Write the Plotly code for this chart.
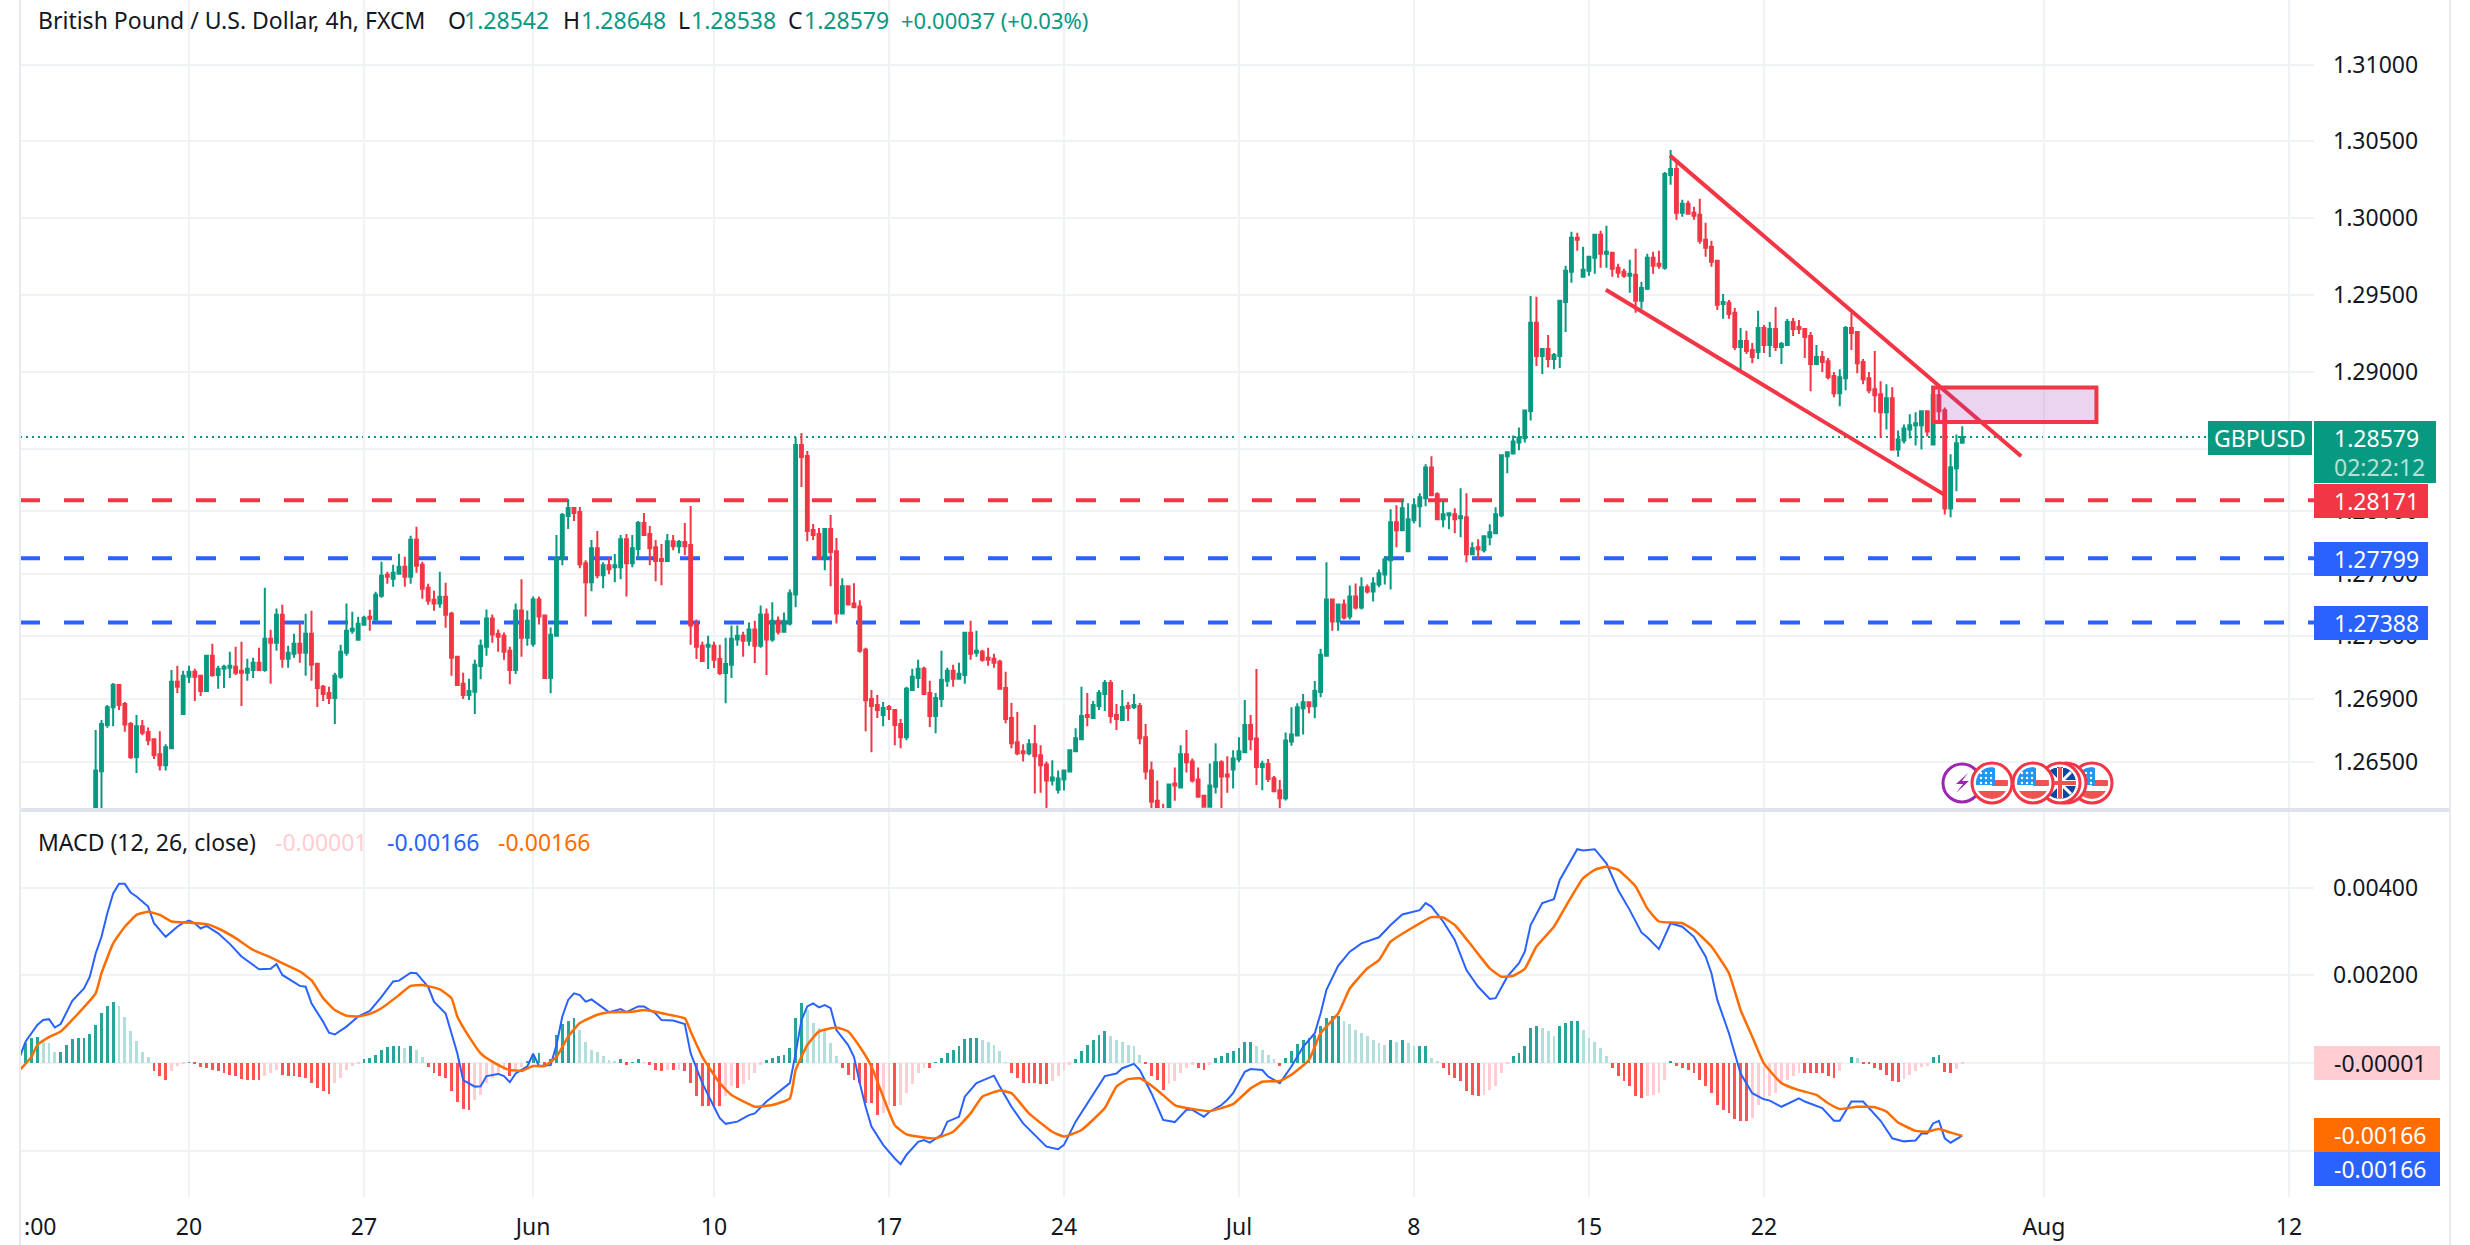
import math
import plotly.graph_objects as go

W, H = 2470, 1245
FONT = "Noto Sans"
GREEN, RED, BLUE, ORANGE = "#089981", "#f23645", "#2962ff", "#ff6d00"
GRID = "#f0f3f5"

# candles in pips above 1.26000 (one list per field, bar 0 first)
opens_pips = [
    5, 44.2, 73.5, 84.8, 99, 86.9, 74.1, 53.2, 72.8, 69,
    64.5, 54.9, 47.9, 58.7, 101, 80.5, 104.2, 107.4, 104.8, 95.2,
    117.6, 105.4, 109.3, 109.9, 110.6, 108, 106.7, 108.6, 113.1, 108.6,
    128.5, 125.9, 143.8, 115.7, 118.9, 125.3, 119.5, 131.7, 112.5, 97.8,
    93.9, 90.7, 104.2, 119.5, 133.6, 127.8, 137.4, 142.5, 140.6, 156,
    169.4, 166.8, 170, 174.5, 168.1, 191.8, 175.8, 161.1, 153.4, 150.9,
    155.3, 144.5, 117, 99.7, 92.6, 94.6, 111.1, 123.3, 141.4, 131.7,
    130.4, 120.8, 108.5, 146.5, 129.1, 125.3, 153.6, 143.3, 103.4, 130.4,
    179.4, 207, 212.2, 209.6, 176.8, 164.5, 186.4, 169.1, 175.5, 174.2,
    174.2, 192.2, 176.8, 185.8, 202.5, 195.5, 187, 179.4, 178.1, 190.9,
    187.7, 190.3, 188.4, 137.5, 124, 123.3, 124, 115.6, 106.6, 111.8,
    127.9, 130.4, 127.2, 134.3, 124, 143.9, 127.9, 140, 133, 138.2,
    156.8, 252.7, 245.7, 198, 195.5, 179.4, 198.7, 184.5, 144.6, 162,
    151, 149.1, 121.4, 90.1, 86.2, 79.9, 85, 83, 74.1, 65.8,
    95.8, 103.5, 109.3, 93.9, 79.2, 90.1, 101.6, 108, 102.9, 105.4,
    132.3, 119.5, 120.1, 116.3, 115.7, 113.8, 97.1, 77.9, 62.6, 56.8,
    55.5, 61.3, 54.3, 48.5, 38.3, 32.5, 38.9, 44, 56.8, 64.5,
    79.9, 77.9, 85.6, 93.3, 100.3, 79.9, 76.7, 85.6, 85, 85.6,
    65.8, 44.7, 25.5, 20, 17, 36.4, 33.8, 54.9, 50.4, 38.9,
    28.7, 21.6, 34.4, 49.8, 42.1, 45.3, 51.7, 56.2, 73.5, 64.9,
    46.9, 48.8, 39.8, 32.1, 27, 63, 66.8, 84.2, 88, 85.5,
    94.5, 117.6, 153.6, 139.4, 150.3, 142.6, 155.5, 148.4, 161.3, 158.7,
    163.2, 169.6, 178.6, 203, 197.9, 184.4, 204.3, 213.3, 218.4, 238.3,
    221, 204.9, 207.5, 208.2, 205.6, 206.2, 182.5, 187, 185, 193.4,
    196, 207.5, 245.4, 247.3, 254.4, 257, 274.6, 331.7, 310.2, 314.8,
    308.2, 310.2, 345.3, 364.9, 387, 361.6, 365.5, 374, 388.9, 376.6,
    377.2, 367.5, 364.9, 362.3, 362.9, 346, 353.8, 374, 370.1, 367.5,
    428, 431.9, 403.3, 409.1, 403.3, 402, 385.7, 381.1, 372, 344,
    344.7, 338.2, 316, 320, 314.1, 312.8, 328.4, 317.3, 327.7, 316,
    317.3, 332.3, 329, 327.7, 323.2, 305, 309.5, 306.9, 297.2, 286.1,
    295.9, 328.4, 325.8, 306.3, 295.9, 288.7, 285.5, 273.8, 282.9, 249.8,
    255.6, 262.8, 265.4, 265.4, 274.5, 253, 284.8, 275.1, 211.9, 237.8,
    254.2,
]
highs_pips = [
    70.3, 76.7, 86.2, 100.3, 99, 88.2, 75.4, 79.9, 76.7, 72,
    64.5, 69.6, 61.3, 108.6, 111.2, 108, 111.2, 109.3, 105.4, 118.2,
    125.3, 111.2, 111.8, 120.1, 123.3, 126.5, 115.7, 116.3, 122.7, 161,
    134.2, 147.7, 150.2, 124, 131.7, 138.7, 144.5, 146.4, 112.5, 99,
    97.8, 106.7, 124.6, 150.9, 145.7, 142.5, 143.2, 147, 158.5, 177.7,
    171.3, 175.8, 182.8, 180.9, 194.3, 200.1, 177.7, 163.6, 159.2, 171.3,
    164.3, 145.7, 117, 106.7, 102.9, 115, 127.9, 147.2, 143.9, 134.3,
    132.4, 123.3, 151, 166.5, 146.5, 155.5, 155.5, 143.3, 135.6, 194.8,
    209, 218, 212.8, 212.8, 178.7, 191.6, 197.4, 177.4, 180.6, 182.6,
    194.8, 195.5, 194.8, 203.8, 209, 200.6, 191.6, 189, 195.5, 194.8,
    191.6, 202.5, 213.5, 140.7, 126.6, 130.4, 126.6, 124.6, 129.1, 136.9,
    136.9, 133, 138.8, 140, 149.7, 147.8, 151.7, 142.7, 145.2, 160,
    257.9, 260.5, 248.9, 201.9, 199.3, 199.3, 207.7, 192.9, 167.1, 162,
    163.9, 153, 122.7, 95.8, 92.6, 88.2, 86.2, 83.7, 77.3, 97.8,
    109.3, 115, 110.6, 101.6, 93.9, 120.8, 109.9, 111.8, 113.1, 132.9,
    140, 133.6, 121.4, 122.7, 118.9, 115, 107.4, 87.5, 81.8, 61.3,
    64.5, 73.5, 60.7, 50.4, 51.1, 44.7, 44.7, 57.5, 71.5, 97.8,
    93.9, 88.8, 95.8, 102.2, 102.2, 86.9, 95.8, 88.2, 93.3, 87.5,
    74.1, 50.4, 38.3, 23.6, 35.7, 46.6, 60.7, 70.3, 52.3, 46.6,
    28.7, 49.1, 61.9, 51.1, 53.6, 57.5, 65.8, 89.4, 79.9, 109.2,
    50.8, 52, 41.1, 38.6, 68.8, 84.8, 87.4, 93.2, 88, 101.5,
    122.1, 177.3, 154.2, 151, 153.6, 162.5, 163.8, 167.7, 163.2, 167.7,
    172.8, 181.2, 211.4, 213.9, 217.2, 215.2, 218.4, 221.6, 240.3, 245.4,
    222.3, 216.5, 208.8, 212, 224.9, 221.6, 190.2, 192.1, 194.7, 201.7,
    212.7, 246.7, 248.6, 258.9, 264, 275, 349.2, 348.6, 314.8, 323.9,
    312.1, 346, 368.8, 390.9, 390.2, 381.1, 375.3, 389.6, 391.5, 394.8,
    377.2, 370.1, 366.8, 372.7, 379.8, 358.4, 376.6, 377.9, 378.5, 429.9,
    444.2, 435.8, 411.7, 411.1, 407.2, 412.4, 396.7, 385, 372, 350.5,
    346.6, 341.4, 328.4, 326.5, 318.7, 339.5, 330.3, 332.3, 342, 319.3,
    334.2, 334.8, 333.5, 328.4, 325.8, 317.3, 313.4, 308.9, 299.8, 301.7,
    329.7, 338.1, 325.8, 308.2, 299.8, 313.4, 293.9, 292, 290, 262.1,
    266, 272.5, 273.8, 275.1, 275.1, 288.1, 288.7, 277, 246.8, 259.5,
    264.8,
]
lows_pips = [
    0, 10, 71.7, 72.8, 83, 69.2, 51.9, 43, 67, 60.7,
    51.9, 44.7, 44.7, 58.7, 93.9, 80.5, 100.3, 88.8, 92, 95.2,
    104.2, 96.5, 97.1, 103.5, 105.4, 85.6, 101.6, 103.5, 108.6, 107.4,
    99.7, 120.8, 109.9, 109.9, 116.3, 113.1, 104.8, 101.6, 85, 88.8,
    86.9, 74.1, 102.9, 117.6, 131.7, 127.8, 137.4, 133.6, 140.6, 154.7,
    163.6, 161.7, 170, 161.7, 163.6, 170.7, 154, 150.2, 146.4, 148.3,
    135.5, 104.8, 99, 90.1, 89.4, 80.5, 102.7, 117.6, 125.9, 120.1,
    115, 99.5, 106, 116.9, 124, 123.3, 137.5, 103.4, 93.7, 129.8,
    175.5, 198.7, 203.8, 173.6, 142.7, 158.8, 167.1, 160.7, 169.7, 164.5,
    166.5, 155.5, 174.2, 179.4, 194.2, 175.5, 165.2, 162.6, 178.1, 185.1,
    183.2, 181.9, 124.6, 115.6, 114.3, 109.2, 109.8, 105.3, 87.3, 103.4,
    124, 116.9, 124, 113, 122.7, 105.3, 126.6, 131.1, 133, 136.9,
    148.5, 225.7, 190.9, 191.6, 179.4, 172.3, 162, 138.2, 144.6, 150.4,
    148.5, 119.5, 69.6, 56.2, 77.9, 72.8, 76.7, 60.7, 58.7, 63.9,
    95.2, 97.1, 92.6, 72.2, 68.3, 85, 97.8, 97.8, 102.9, 99.7,
    115, 117, 113.8, 111.2, 109.9, 96.5, 74.7, 58.7, 54.3, 50.4,
    54.3, 30, 30.6, 20.4, 35.1, 30, 31.9, 44, 56.2, 64.5,
    72.8, 77.3, 83, 82.4, 74.7, 70.3, 76.7, 76, 83.7, 61.3,
    38.9, 20, 14, 14, 15, 25.5, 33.8, 43.4, 37, 28,
    21, 21.6, 30, 17, 30.6, 33.2, 49.8, 56.2, 57.5, 35.4,
    32.1, 37.3, 30.9, 19.3, 25.7, 60.4, 66.2, 67.5, 81, 77.8,
    91.2, 117.6, 133.6, 133.6, 140.7, 140.7, 147.1, 147.1, 157.4, 152.3,
    161.3, 163.2, 160, 187, 197.9, 184.4, 202.4, 199.8, 213.3, 219.7,
    204.9, 199.8, 198.5, 196, 193.4, 177.3, 181.8, 179.2, 183.7, 188.2,
    196, 206.2, 234.5, 246.7, 249.3, 254.4, 268.5, 303.7, 298.5, 303,
    301.7, 302.4, 325.8, 357.7, 378.5, 361.6, 362.3, 363.6, 367.5, 367.5,
    361.6, 361, 361, 351.2, 338.2, 340.8, 353.1, 363.6, 366.8, 366.2,
    421.5, 398.7, 400.7, 402, 398.7, 383.1, 374.6, 368.1, 340.1, 334.3,
    334.3, 314.1, 301.1, 311.5, 305.6, 308.2, 312.1, 309.5, 313.4, 305,
    317.3, 323.2, 324.5, 308.9, 287.4, 304.3, 299.8, 295.2, 283.5, 277.7,
    288.1, 314.1, 299.1, 292, 286.1, 273.8, 257.6, 262.8, 249, 245.2,
    253.7, 256.9, 252.4, 249.8, 258.2, 253, 268, 208, 206.2, 223,
    253.8,
]
closes_pips = [
    44.7, 74.1, 84.8, 99, 86.2, 73.9, 53.2, 72.8, 68.6, 63.9,
    54.3, 47.9, 59.4, 101, 97.8, 104.8, 107.4, 104.2, 95.2, 117.6,
    105.4, 109.3, 110.6, 111.2, 106.7, 106.7, 109.3, 113.1, 108.6, 128.5,
    125.9, 143.8, 115.7, 119.5, 125.3, 119.5, 131.7, 111.8, 97.1, 93.3,
    90.7, 104.8, 120.1, 133.6, 134.9, 138, 141.9, 141.3, 156.6, 168.8,
    168.1, 170.7, 174.5, 168.1, 191.8, 175.2, 160.4, 152.8, 150.9, 155.3,
    143.8, 116.3, 99, 92.6, 95.2, 111.8, 124, 141.4, 131.1, 129.8,
    120.1, 108.5, 146.5, 129.1, 140, 153.6, 142.7, 103.4, 131, 179.4,
    207.7, 212.2, 209, 176.1, 164.5, 186.4, 169.1, 175.5, 172.9, 175.5,
    192.2, 176.8, 186.4, 202.5, 194.8, 186.4, 178.1, 178.1, 190.9, 187.7,
    190.3, 187.7, 136.9, 123.3, 114.3, 124.6, 115, 106.6, 112.4, 128.5,
    130.4, 127.2, 134.3, 124, 143.9, 127.9, 140, 133, 140, 157.5,
    252.7, 245, 197.4, 194.8, 179.4, 198.7, 183.9, 144.6, 162, 150.4,
    148.5, 120.8, 89.2, 85.6, 83, 84.3, 83.7, 73.5, 65.8, 96.5,
    104.2, 109.3, 93.3, 79.2, 90.7, 102.2, 108, 102.9, 106.1, 132.3,
    118.9, 120.8, 115, 115, 113.1, 96.5, 77.3, 61.9, 55.5, 55.5,
    61.3, 53.6, 47.9, 38.3, 40.2, 39.6, 44.7, 57.5, 65.1, 79.2,
    78.6, 86.2, 93.9, 100.3, 79.2, 77.3, 85, 84.3, 86.2, 65.1,
    44, 24.8, 18, 18.5, 35.7, 35.1, 54.9, 49.8, 38.3, 28,
    21.6, 35.1, 49.8, 40.8, 40.8, 52.3, 56.8, 73.5, 64.5, 46.9,
    48.8, 39.2, 31.5, 27, 63.6, 67.5, 84.8, 88, 85.5, 95.1,
    118.2, 153.6, 139.4, 150.3, 142, 155.5, 148.4, 161.3, 158.7, 163.8,
    170.3, 179.2, 203, 197.9, 212, 205, 213.9, 219.1, 238.3, 220.4,
    204.9, 208.2, 208.8, 204.9, 206.9, 182.5, 186.3, 185.7, 194, 196.6,
    208.2, 246.1, 248, 255, 257.6, 275, 331.7, 310.2, 314.8, 308.2,
    310.8, 346, 365.5, 387, 385.7, 366.2, 374.6, 388.9, 376.6, 377.9,
    366.8, 364.2, 362.3, 363.6, 346, 354.4, 374, 368.8, 368.8, 428.6,
    431.9, 403.3, 409.1, 402.6, 401.3, 385, 380.5, 371.4, 343.4, 345.3,
    337.5, 316, 320, 313.4, 309.5, 328.4, 317.3, 327.7, 316, 318,
    332.3, 327.7, 327.7, 322.5, 305, 309.5, 306.3, 296.5, 286.1, 296.5,
    328.4, 325.1, 305.6, 295.2, 288.1, 284.8, 273.8, 282.9, 249.8, 256.3,
    263.4, 265.4, 266.7, 274.5, 261.5, 284.8, 274.5, 211.9, 238.4, 253.9,
    257.9,
]

# macd histogram, 1e-5 units, first bar is -12
hist_units = [
    46, 57, 59, 49, 45, 26, 26, 41, 55, 57, 57, 66,
    87, 113, 130, 139, 129, 104, 72, 50, 26, 14,
    -19, -30, -38, -19, -6, -2, 2, -2, -9, -11,
    -15, -19, -23, -27, -30, -37, -40, -40, -40, -30,
    -23, -15, -27, -30, -30, -32, -34, -46, -57, -65,
    -70, -46, -34, -17, -8, -2, 8, 11, 19, 29,
    37, 38, 38, 35, 38, 30, 14, -9, -23, -30,
    -34, -65, -88, -105, -107, -84, -72, -46, -34, -27,
    -15, -30, -19, -9, 4, 15, 23, -4, 8, 65,
    88, 95, 103, 76, 47, 30, 25, 15, 6, 4,
    8, -4, 2, 8, 2, -4, -15, -19, -17, -17,
    -15, -19, -46, -76, -99, -99, -99, -99, -76, -53,
    -57, -49, -38, -23, -4, 6, 11, 15, 19, 34,
    103, 137, 122, 91, 80, 76, 46, 15, -11, -27,
    -38, -46, -91, -91, -118, -114, -95, -99, -95, -68,
    -49, -23, -11, -11, 2, 11, 23, 30, 38, 55,
    57, 57, 52, 47, 40, 27, 2, -23, -34, -46,
    -46, -46, -49, -49, -42, -30, -15, -4, 8, 27,
    42, 53, 65, 72, 61, 53, 49, 42, 38, 19,
    -2, -30, -38, -61, -49, -42, -23, -11, -4, -11,
    -15, -4, 11, 15, 23, 27,
    34, 49, 49, 38, 30, 19, 8, -6, 11, 27,
    44, 53, 57, 65, 84, 103, 107, 107, 95, 88,
    76, 68, 61, 52, 46, 42, 53, 49, 53, 46,
    38, 38, 38, 11, 4, -11, -27, -34, -42, -65,
    -72, -76, -72, -61, -53, -23, -2, 15, 23, 38,
    80, 84, 80, 72, 61, 84, 91, 95, 95, 76,
    57, 49, 34, 15, -11, -30, -42, -53, -76, -80,
    -76, -72, -68, -38, 3, -8, -11, -15, -23, -38,
    -53, -68, -95, -107, -114, -129, -133, -133, -126, -95,
    -84, -76, -68, -46, -38, -30, -23, -23, -23, -23,
    -23, -30, -34, -19, 0, 14, 11, -2, -2, -11,
    -15, -27, -42, -44, -37, -27, -19, -9, -6, 14,
    19, -21, -23, -14, -1,
]

macd_bars = [
    -13, -12, -10, -9, -8, -7, -6, -4, -2, -1, 0, 1, 2, 3, 4, 5, 6, 7, 9, 10,
    12, 14, 15, 16, 17, 18, 19, 21, 23, 25, 28, 30, 31, 32, 35, 36, 37, 39, 40, 41,
    43, 45, 47, 49, 51, 52, 54, 55, 57, 58, 60, 61, 62, 63, 65, 66, 67, 69, 70, 71,
    72, 74, 75, 76, 78, 79, 80, 81, 82, 83, 84, 85, 87, 88, 90, 91, 93, 94, 96, 97,
    99, 101, 102, 104, 106, 107, 108, 110, 112, 113, 115, 116, 117, 119, 120, 121, 122, 123, 124, 125,
    126, 127, 129, 130, 131, 132, 133, 135, 137, 138, 139, 141, 142, 143, 145, 146, 148, 149, 151, 153,
    154, 155, 157, 159, 161, 163, 165, 166, 168, 171, 173, 175, 176, 178, 179, 181, 183, 185, 187, 188,
    190, 191, 193, 194, 195, 197, 198, 200, 201, 203, 205, 207, 209, 210, 211, 213, 215, 217, 220, 222,
    224, 227, 228, 229, 231, 233, 235, 237, 239, 240, 242, 244, 245, 246, 248, 250, 251, 254, 255, 257,
    259, 261, 263, 265, 266, 268, 270, 272, 274, 276, 277, 278, 280, 282, 284, 286, 287, 289, 292, 293,
    296, 298, 299, 301, 303, 306, 308, 310, 312, 313, 314, 315, 316, 317, 318, 320,
]
macd_units = [
    14, 49, 87, 98, 100, 81, 89, 142, 170, 197, 250, 288, 342, 387, 409, 409, 389, 380, 357, 319,
    288, 311, 320, 325, 319, 307, 313, 296, 272, 243, 214, 215, 226, 201, 176, 174, 136, 94, 69, 65,
    83, 106, 119, 151, 186, 188, 206, 205, 174, 140, 113, 68, 22, -39, -54, -53, -30, -25, -30, -44,
    -24, -8, 21, -7, -5, 41, 106, 144, 159, 155, 140, 145, 127, 116, 123, 116, 129, 129, 113, 98,
    97, 89, 22, -46, -100, -126, -139, -134, -119, -115, -88, -77, -68, -46, 22, 98, 129, 136, 127, 132,
    125, 75, 41, 14, -46, -100, -145, -187, -218, -231, -210, -180, -176, -182, -164, -134, -123, -77, -46, -35,
    -29, -54, -100, -138, -164, -191, -197, -187, -134, -73, -30, -24, -12, -2, -16, -69, -130, -135, -107, -107,
    -123, -111, -96, -84, -69, -20, -14, -16, -31, -46, -8, 37, 68, 113, 167, 222, 254, 273, 287, 315,
    339, 349, 365, 357, 323, 281, 212, 174, 146, 148, 197, 228, 254, 315, 365, 374, 418, 488, 485, 488,
    456, 395, 349, 298, 287, 260, 319, 311, 288, 243, 205, 144, 68, -24, -69, -83, -86, -100, -81, -88,
    -103, -132, -132, -88, -88, -132, -172, -179, -177, -161, -161, -138, -132, -172, -182, -166,
]
signal_bars = [
    -13, -11, -10, -8, -6, -3, 0, 1, 3, 5, 7, 9, 11, 13, 16, 19, 21, 24, 27, 30,
    32, 35, 37, 39, 41, 43, 45, 47, 49, 52, 54, 56, 59, 61, 62, 64, 66, 68, 70, 71,
    73, 75, 77, 79, 81, 83, 86, 88, 92, 94, 96, 98, 101, 102, 104, 107, 109, 112, 113, 116,
    119, 120, 122, 124, 127, 129, 131, 133, 135, 137, 139, 142, 144, 147, 150, 152, 155, 157, 160, 164,
    166, 169, 173, 175, 177, 179, 182, 185, 187, 191, 193, 195, 198, 200, 203, 205, 208, 210, 213, 215,
    218, 220, 222, 226, 229, 231, 233, 236, 239, 241, 243, 245, 247, 250, 252, 255, 257, 259, 261, 264,
    266, 268, 272, 274, 277, 280, 282, 284, 286, 289, 292, 295, 297, 299, 302, 305, 307, 309, 312, 314,
    316, 318, 320,
]
signal_units = [
    -16, 14, 41, 59, 72, 113, 159, 205, 273, 311, 338, 345, 338, 323, 320, 317, 307, 285, 258, 241,
    228, 209, 189, 148, 121, 108, 106, 112, 125, 155, 176, 178, 168, 148, 106, 60, 22, 3, -11, -16,
    -18, -7, -7, 14, 60, 91, 110, 116, 117, 121, 117, 111, 102, 72, 14, -46, -73, -94, -100, -96,
    -81, -16, 41, 72, 81, 72, 37, -8, -77, -142, -163, -170, -172, -157, -115, -77, -63, -69, -115, -157,
    -168, -153, -103, -54, -37, -35, -62, -96, -103, -110, -103, -94, -58, -43, -41, -27, 7, 68, 113, 170,
    216, 235, 277, 311, 333, 332, 315, 266, 216, 197, 199, 215, 266, 311, 357, 422, 441, 448, 441, 403,
    353, 323, 319, 304, 266, 205, 121, 60, -1, -46, -62, -73, -92, -105, -100, -101, -111, -136, -155, -157,
    -151, -159, -166,
]

# tick positions on the bar axis
date_bars = [16, 46, 75, 106, 136, 166, 196, 226, 256, 286, 334, 376]
date_labels = ["20", "27", "Jun", "10", "17", "24", "Jul", "8", "15", "22", "Aug", "12"]
price_ticks = [1.31, 1.305, 1.30, 1.295, 1.29, 1.285, 1.281, 1.277, 1.273, 1.269, 1.265]
macd_ticks = [0.004, 0.002, 0, -0.002]

last_price = 1.28579
res_level = 1.28171
sup_levels = [1.27799, 1.27388]
# drawn channel and supply box
upper_bars, upper_prices = [269.9, 330.1], [1.30406, 1.28455]
lower_bars, lower_prices = [258.9, 316.9], [1.29532, 1.28208]
box_bars, box_prices = [315, 343], [1.28898, 1.28675]


def to_price(pips):
    return [1.26 + p / 10000 for p in pips]


def to_macd(units):
    return [u / 100000 for u in units]


def px(x):
    return x / W


def py(y):
    return 1 - y / H


opens, highs, lows, closes = map(to_price, (opens_pips, highs_pips, lows_pips, closes_pips))
bars = list(range(len(closes)))
hist = to_macd(hist_units)
hist_bars = list(range(-12, -12 + len(hist)))

# same four colour rule as the indicator
hist_colors = []
prev = hist[0]
for v in hist:
    if v >= 0:
        hist_colors.append("#26a69a" if v >= prev else "#b2dfdb")
    else:
        hist_colors.append("#ff5252" if v <= prev else "#ffcdd2")
    prev = v

fig = go.Figure()

fig.add_trace(go.Candlestick(
    x=bars, open=opens, high=highs, low=lows, close=closes,
    increasing=dict(line=dict(color=GREEN, width=2), fillcolor=GREEN),
    decreasing=dict(line=dict(color=RED, width=2), fillcolor=RED),
    whiskerwidth=0, hoverinfo="skip", showlegend=False, xaxis="x", yaxis="y",
))
for xs, ys in [(upper_bars, upper_prices), (lower_bars, lower_prices)]:
    fig.add_trace(go.Scatter(x=xs, y=ys, mode="lines", line=dict(color=RED, width=4),
                             hoverinfo="skip", showlegend=False, xaxis="x", yaxis="y"))

fig.add_trace(go.Bar(x=hist_bars, y=hist, marker=dict(color=hist_colors, line=dict(width=0)),
                     width=0.48, hoverinfo="skip", showlegend=False, xaxis="x2", yaxis="y2"))
fig.add_trace(go.Scatter(x=macd_bars, y=to_macd(macd_units), mode="lines",
                         line=dict(color=BLUE, width=2), hoverinfo="skip", showlegend=False,
                         xaxis="x2", yaxis="y2"))
fig.add_trace(go.Scatter(x=signal_bars, y=to_macd(signal_units), mode="lines",
                         line=dict(color=ORANGE, width=2.5, shape="spline", smoothing=0.4),
                         hoverinfo="skip", showlegend=False, xaxis="x2", yaxis="y2"))

shapes = []
annots = []


def hline(y, color, dash, width, yref="y", x1=2314, layer="below"):
    shapes.append(dict(type="line", xref="paper", yref=yref, x0=px(20), x1=px(x1), y0=y, y1=y,
                       line=dict(color=color, width=width, dash=dash), layer=layer))


def rect(x0, y0, x1, y1, fill):
    shapes.append(dict(type="rect", xref="paper", yref="paper", x0=px(x0), x1=px(x1), y0=py(y0), y1=py(y1),
                       fillcolor=fill, line=dict(width=0), layer="above"))


def text(x, y, s, color, size=23, anchor="left"):
    annots.append(dict(xref="paper", yref="paper", x=px(x), y=py(y), text=s, showarrow=False,
                       xanchor=anchor, yanchor="middle", font=dict(family=FONT, size=size, color=color)))


def circle(cx, cy, r, fill, color, width=3):
    shapes.append(dict(type="circle", xref="paper", yref="paper", x0=px(cx - r), x1=px(cx + r),
                       y0=py(cy + r), y1=py(cy - r), fillcolor=fill, line=dict(color=color, width=width),
                       layer="above"))


def poly(points, fill):
    d = "M " + " L ".join(f"{px(x):.5f},{py(y):.5f}" for x, y in points) + " Z"
    shapes.append(dict(type="path", xref="paper", yref="paper", path=d, fillcolor=fill,
                       line=dict(width=0), layer="above"))


def disc_part(cx, cy, r, x0, x1, y0, y1, fill):
    # piece of a flag: a box cut by the round badge
    left, right = [], []
    y = y0
    while y <= y1:
        dx = math.sqrt(max(r * r - (y - cy) ** 2, 0))
        left.append((max(cx - dx, x0), y))
        right.append((min(cx + dx, x1), y))
        y += 1
    poly(left + right[::-1], fill)


def us_badge(cx, cy):
    circle(cx, cy, 20, "#ffffff", RED)
    r = 16
    disc_part(cx, cy, r, cx, cx + r, cy - 3, cy + 3, "#ef5350")
    disc_part(cx, cy, r, cx - r, cx + r, cy + 8, cy + r, "#ef5350")
    disc_part(cx, cy, r, cx - r, cx + 3, cy - r, cy + 2, "#2196f3")
    for sx in (-11, -6, -1):
        for sy in (-10, -5, 0):
            circle(cx + sx, cy + sy, 1.2, "#ffffff", "#ffffff", 0)


def uk_badge(cx, cy):
    circle(cx, cy, 20, "#ffffff", RED)
    r = 16
    disc_part(cx, cy, r, cx + 3, cx + r, cy - r, cy - 3, "#0d47a1")
    disc_part(cx, cy, r, cx + 3, cx + r, cy + 3, cy + r, "#0d47a1")
    disc_part(cx, cy, r, cx - r, cx - 3, cy - r, cy - 3, "#0d47a1")
    disc_part(cx, cy, r, cx - r, cx - 3, cy + 3, cy + r, "#0d47a1")
    for sx, sy in ((-1, -1), (1, 1), (1, -1), (-1, 1)):
        shapes.append(dict(type="line", xref="paper", yref="paper", x0=px(cx), y0=py(cy),
                           x1=px(cx + sx * 11), y1=py(cy + sy * 11),
                           line=dict(color="#ffffff", width=3), layer="above"))
    disc_part(cx, cy, r, cx - 2, cx + 2, cy - r, cy + r, "#ef5350")
    disc_part(cx, cy, r, cx - r, cx + r, cy - 2, cy + 2, "#ef5350")


# level lines, under the candles
hline(res_level, RED, "20px,24px", 4)
for lv in sup_levels:
    hline(lv, BLUE, "20px,24px", 4)
hline(last_price, GREEN, "2px,4px", 2, x1=2208)
hline(0, "#a9acb3", "9px,6px", 2, yref="y2")

# supply box
shapes.append(dict(type="rect", xref="x", yref="y", x0=box_bars[0], x1=box_bars[1],
                   y0=box_prices[1], y1=box_prices[0], fillcolor="rgba(156,39,176,0.2)",
                   line=dict(color=RED, width=4), layer="above"))

# pane separator and outer borders
rect(20, 808, 2450, 812, "#e0e3eb")
rect(19, 0, 21, H, "#e8eaf0")
rect(2449, 0, 2451, H, "#e8eaf0")

# price tags on the scale
rect(2208, 421, 2312, 455, GREEN)
text(2260, 438, "GBPUSD", "#ffffff", 23, "center")
rect(2314, 421, 2436, 483, GREEN)
text(2332, 438, "1.28579", "#ffffff")
text(2332, 467, "02:22:12", "#b5e0d6")
rect(2314, 484, 2428, 518, RED)
text(2332, 501, "1.28171", "#ffffff")
rect(2314, 542, 2428, 576, BLUE)
text(2332, 559, "1.27799", "#ffffff")
rect(2314, 606, 2428, 640, BLUE)
text(2332, 623, "1.27388", "#ffffff")

rect(2314, 1046, 2440, 1080, "#ffcdd2")
text(2332, 1063, "-0.00001", "#131722")
rect(2314, 1118, 2440, 1152, ORANGE)
text(2332, 1135, "-0.00166", "#ffffff")
rect(2314, 1152, 2440, 1186, BLUE)
text(2332, 1169, "-0.00166", "#ffffff")

# legend rows
text(36, 20, "British Pound / U.S. Dollar, 4h, FXCM", "#131722")
text(446, 20, "O", "#131722")
text(462, 20, "1.28542", GREEN)
text(561, 20, "H", "#131722")
text(579, 20, "1.28648", GREEN)
text(676, 20, "L", "#131722")
text(689, 20, "1.28538", GREEN)
text(786, 20, "C", "#131722")
text(802, 20, "1.28579", GREEN)
text(899, 20, "+0.00037 (+0.03%)", GREEN, 22)
text(36, 842, "MACD (12, 26, close)", "#131722")
text(273, 842, "-0.00001", "#ffcdd2")
text(385, 842, "-0.00166", BLUE)
text(496, 842, "-0.00166", ORANGE)
text(22, 1226, ":00", "#131722")

# event badges
circle(1962, 783, 19, "#ffffff", "#9c27b0")
poly([(1968, 773), (1956, 784), (1963, 784), (1956, 793), (1969, 781), (1962, 781)], "#9c27b0")
us_badge(2092, 783)
circle(2066, 783, 20, "#ffffff", RED)
uk_badge(2060, 783)
us_badge(1992, 783)
us_badge(2033, 783)

x_left, x_right = -12.97, 380.3
fig.update_layout(
    width=W, height=H, margin=dict(l=0, r=0, t=0, b=0),
    paper_bgcolor="#ffffff", plot_bgcolor="#ffffff",
    font=dict(family=FONT, color="#131722", size=23),
    showlegend=False, bargap=0, hovermode=False, dragmode=False,
    shapes=shapes, annotations=annots,
    xaxis=dict(domain=[px(20), px(2314)], range=[x_left, x_right], anchor="y",
               tickvals=date_bars, showticklabels=False, ticks="",
               showgrid=True, gridcolor=GRID, gridwidth=2, zeroline=False, showline=False,
               rangeslider=dict(visible=False)),
    yaxis=dict(domain=[py(810), 1], type="log", range=[0.101046, 0.118687], side="right", anchor="x",
               tickvals=price_ticks, ticktext=[f"{t:.5f}" for t in price_ticks], ticks="",
               ticklabelstandoff=18, showgrid=True, gridcolor=GRID, gridwidth=2,
               zeroline=False, showline=False),
    xaxis2=dict(domain=[px(20), px(2314)], range=[x_left, x_right], anchor="y2",
                tickvals=date_bars, ticktext=date_labels, ticks="", ticklabelstandoff=14,
                showgrid=True, gridcolor=GRID, gridwidth=2, zeroline=False, showline=False),
    yaxis2=dict(domain=[py(1197), py(812)], range=[-0.00306, 0.00573], side="right", anchor="x2",
                tickvals=macd_ticks, ticktext=[f"{t:.5f}" for t in macd_ticks], ticks="",
                ticklabelstandoff=18, showgrid=True, gridcolor=GRID, gridwidth=2,
                zeroline=False, showline=False),
)

fig.write_html("out.html", config={"displayModeBar": False},
               post_script="document.body.style.margin='0';document.body.style.overflow='hidden';")
